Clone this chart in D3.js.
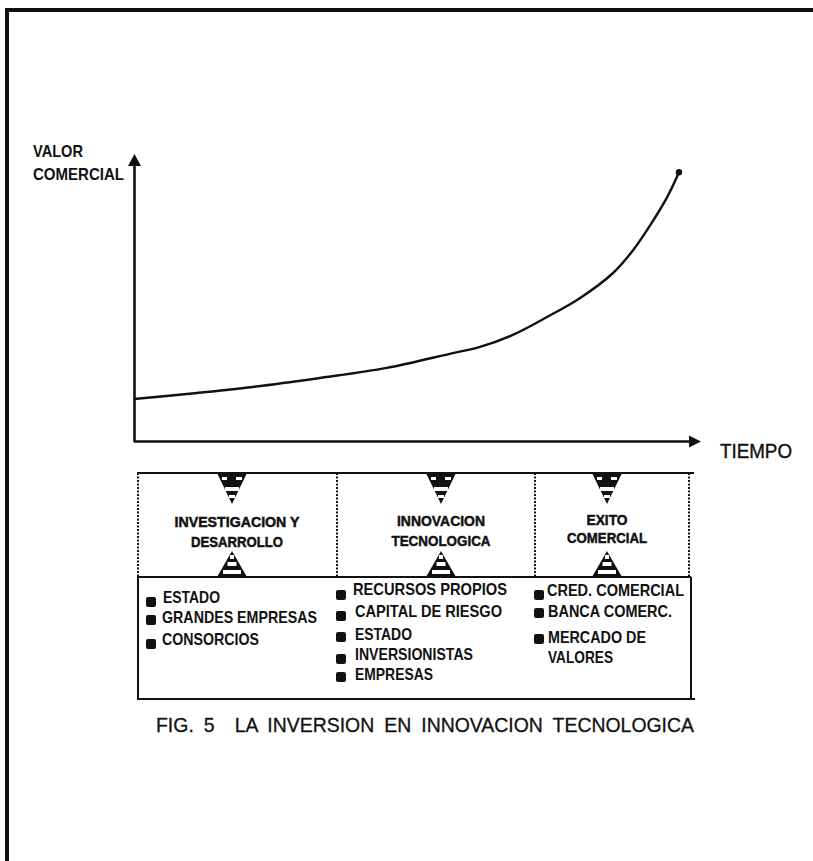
<!DOCTYPE html>
<html lang="es">
<head>
<meta charset="utf-8">
<script src="https://d3js.org/d3.v7.min.js"></script>
<style>
  html, body { margin: 0; padding: 0; background: #fff; }
  svg { display: block; }
  text { font-family: "Liberation Sans", sans-serif; fill: #111; white-space: pre; }
  .lbl { font-size: 16.5px; font-weight: 700; }
  .head { font-size: 15.5px; font-weight: 700; stroke: #111; stroke-width: 0.5; }
  .cap { font-size: 21px; font-weight: 400; stroke: #111; stroke-width: 0.3; word-spacing: 5px; }
</style>
</head>
<body>
<svg id="chart" width="813" height="861"></svg>
<script>
// curve, in time and value units (0..100)
var curveT = [0, 9.7, 21.8, 34.1, 46.4, 58.5, 63.5, 69.5, 75.8, 81.8, 87.9, 91.6, 94.7, 97.8, 100];
var curveV = [15, 16.8, 19.3, 22.5, 26.1, 31.4, 33.6, 37.9, 44.3, 51, 60, 68.2, 77, 87, 96];

var columnHeads = [["INVESTIGACION Y", "DESARROLLO"], ["INNOVACION", "TECNOLOGICA"], ["EXITO", "COMERCIAL"]];
var columnItems = [
  ["ESTADO", "GRANDES EMPRESAS", "CONSORCIOS"],
  ["RECURSOS PROPIOS", "CAPITAL DE RIESGO", "ESTADO", "INVERSIONISTAS", "EMPRESAS"],
  ["CRED. COMERCIAL", "BANCA COMERC.", "MERCADO DE", "VALORES"]
];

// layout of the diagram under the chart
var centers = [232, 441, 607];
var headY = [[527, 547], [526, 546], [525, 543]];
var headW = [[125, 92], [88, 99], [41, 80]];
var itemX = [[163, 162, 162], [353, 355, 355, 355, 355], [547, 548, 548, 548]];
var itemY = [[603, 623, 645], [595, 617, 640, 660, 680], [596, 617, 643, 663]];
var itemW = [[57, 155, 97], [154, 147, 57, 118, 78], [137, 124, 98, 65]];
var bulletX = [151, 341, 539];
var bulletY = [[602, 620, 644], [595, 616, 637, 659, 677], [595, 613, 639, null]];

var svg = d3.select("#chart");

// page frame, only left and top edges
svg.append("path").attr("d", "M7,861V10H813").attr("fill", "none").attr("stroke", "#111").attr("stroke-width", 4);

var x = d3.scaleLinear().domain([0, 100]).range([134, 679]);
var y = d3.scaleLinear().domain([0, 100]).range([441, 161]);

var line = d3.line()
  .x(function(d, i) { return x(curveT[i]); })
  .y(function(d) { return y(d); })
  .curve(d3.curveCatmullRom);

svg.append("path").datum(curveV).attr("d", line)
  .attr("fill", "none").attr("stroke", "#111").attr("stroke-width", 2.4);
svg.append("circle").attr("cx", x(100)).attr("cy", y(curveV[curveV.length - 1])).attr("r", 3.2).attr("fill", "#111");

// axes
svg.append("line").attr("x1", 134.5).attr("x2", 134.5).attr("y1", 442).attr("y2", 160).attr("stroke", "#111").attr("stroke-width", 2.6);
svg.append("line").attr("x1", 134).attr("x2", 692).attr("y1", 441.5).attr("y2", 441.5).attr("stroke", "#111").attr("stroke-width", 2.6);
svg.append("path").attr("d", "M134.5,154L141,166H128Z").attr("fill", "#111");
svg.append("path").attr("d", "M701,441.5L689,435.5V447.5Z").attr("fill", "#111");

svg.append("text").attr("class", "lbl").attr("x", 33).attr("y", 157).attr("textLength", 50).attr("lengthAdjust", "spacingAndGlyphs").text("VALOR");
svg.append("text").attr("class", "lbl").attr("x", 33).attr("y", 180).attr("textLength", 91).attr("lengthAdjust", "spacingAndGlyphs").text("COMERCIAL");
svg.append("text").attr("x", 720).attr("y", 458).attr("font-size", 20).attr("stroke", "#111").attr("stroke-width", 0.4).attr("textLength", 72).attr("lengthAdjust", "spacingAndGlyphs").text("TIEMPO");

// box
svg.append("line").attr("x1", 137).attr("x2", 694).attr("y1", 473).attr("y2", 473).attr("stroke", "#111").attr("stroke-width", 2);
svg.append("path").attr("d", "M691,577H138V699H695M691,577V699").attr("fill", "none").attr("stroke", "#111").attr("stroke-width", 2);
[138, 337, 535, 689].forEach(function(px) {
  svg.append("line").attr("x1", px).attr("x2", px).attr("y1", 473).attr("y2", 577)
    .attr("stroke", "#111").attr("stroke-width", 2).attr("stroke-dasharray", "2 1.5");
});

centers.forEach(function(cx, c) {
  // top triangle, black with white stripes
  svg.append("path").attr("d", "M" + (cx - 15) + ",473H" + (cx + 15) + "L" + cx + ",504Z").attr("fill", "#111");
  [[-10, 477, 5, 3], [4, 477, 6, 3], [-7, 487, 14, 4], [-3, 495, 6, 3]].forEach(function(s) {
    svg.append("rect").attr("x", cx + s[0]).attr("y", s[1]).attr("width", s[2]).attr("height", s[3]).attr("fill", "#fff");
  });
  // bottom triangle
  svg.append("path").attr("d", "M" + (cx - 15) + ",577H" + (cx + 15) + "L" + cx + ",551Z").attr("fill", "#111");
  [[555, 2, 4], [562, 4.5, 4], [570, 9, 4]].forEach(function(s) {
    svg.append("rect").attr("x", cx - s[1]).attr("y", s[0]).attr("width", s[1] * 2).attr("height", s[2]).attr("fill", "#fff");
  });

  columnHeads[c].forEach(function(t, i) {
    svg.append("text").attr("class", "head").attr("x", cx + (c == 0 ? 5 : 0)).attr("y", headY[c][i]).attr("text-anchor", "middle")
      .attr("textLength", headW[c][i]).attr("lengthAdjust", "spacingAndGlyphs").text(t);
  });

  columnItems[c].forEach(function(t, i) {
    if (bulletY[c][i] !== null) {
      svg.append("rect").attr("x", bulletX[c] - 5).attr("y", bulletY[c][i] - 5).attr("width", 10).attr("height", 10).attr("rx", 2).attr("fill", "#111");
    }
    svg.append("text").attr("class", "lbl").attr("x", itemX[c][i]).attr("y", itemY[c][i])
      .attr("textLength", itemW[c][i]).attr("lengthAdjust", "spacingAndGlyphs").text(t);
  });
});

svg.append("text").attr("class", "cap").attr("x", 156).attr("y", 732).attr("textLength", 538).attr("lengthAdjust", "spacingAndGlyphs").text("FIG. 5  LA INVERSION EN INNOVACION TECNOLOGICA");
</script>
</body>
</html>
